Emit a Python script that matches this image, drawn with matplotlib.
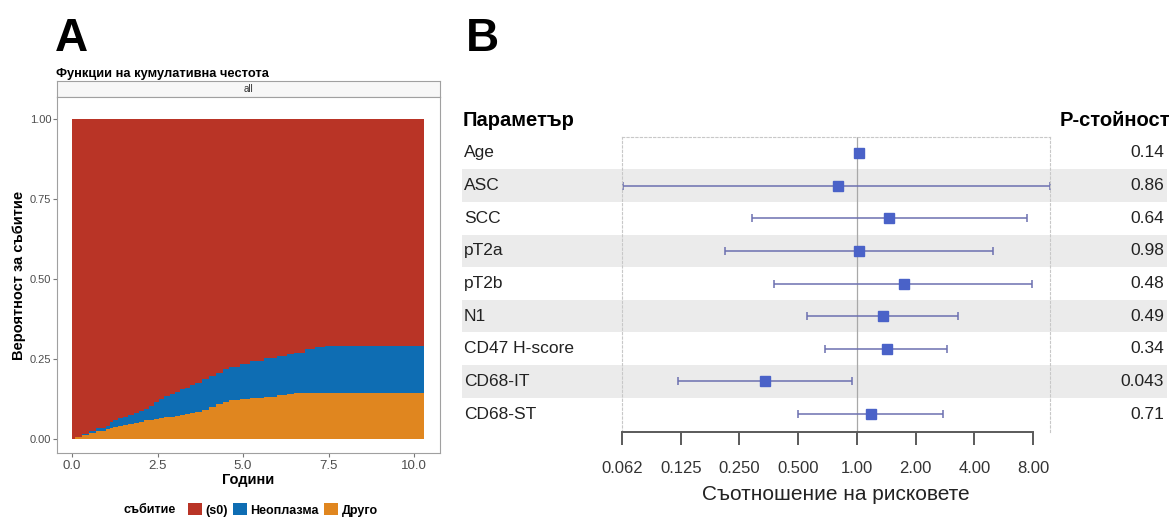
import numpy as np
import matplotlib
matplotlib.use("Agg")
import matplotlib.pyplot as plt
from matplotlib.patches import Patch
from matplotlib.transforms import blended_transform_factory

plt.rcParams['font.family'] = ['Liberation Sans', 'DejaVu Sans']

# Панел A: кумулативна честота по тип събитие
t_years = [0, 0.1, 0.3, 0.5, 0.7, 1.0, 1.1, 1.2, 1.35, 1.5, 1.65, 1.8, 1.95,
           2.1, 2.25, 2.4, 2.55, 2.7, 2.85, 3.0, 3.15, 3.3, 3.45, 3.6, 3.8,
           4.0, 4.2, 4.4, 4.6, 4.9, 5.2, 5.6, 6.0, 6.3, 6.5, 6.8, 7.1, 7.4,
           10.3]
cif_other = [0, 0.005, 0.012, 0.020, 0.024, 0.030, 0.034, 0.038, 0.042,
             0.045, 0.047, 0.050, 0.054, 0.058, 0.060, 0.063, 0.066, 0.068,
             0.070, 0.073, 0.076, 0.078, 0.081, 0.084, 0.092, 0.100, 0.108,
             0.116, 0.121, 0.126, 0.129, 0.132, 0.137, 0.140, 0.143, 0.143,
             0.143, 0.143, 0.143]
cif_neo = [0, 0.001, 0.003, 0.006, 0.010, 0.010, 0.018, 0.022, 0.024, 0.025,
           0.027, 0.030, 0.033, 0.037, 0.044, 0.052, 0.060, 0.067, 0.071,
           0.075, 0.079, 0.082, 0.087, 0.091, 0.094, 0.097, 0.099, 0.102,
           0.105, 0.110, 0.115, 0.120, 0.121, 0.125, 0.127, 0.137, 0.145,
           0.147, 0.147]
event_labels = ['(s0)', 'Неоплазма', 'Друго']
event_colors = ['#b93426', '#0e6db3', '#e0861f']

# Панел B: регресия на Кокс
params = ['Age', 'ASC', 'SCC', 'pT2a', 'pT2b', 'N1', 'CD47 H-score',
          'CD68-IT', 'CD68-ST']
hr = [1.02, 0.80, 1.46, 1.02, 1.74, 1.36, 1.42, 0.337, 1.18]
ci_low = [1.00, 0.063, 0.29, 0.21, 0.375, 0.555, 0.69, 0.121, 0.50]
ci_high = [1.04, 9.8, 7.45, 4.98, 7.9, 3.3, 2.9, 0.95, 2.76]
p_values = ['0.14', '0.86', '0.64', '0.98', '0.48', '0.49', '0.34', '0.043',
            '0.71']
hr_ticks = [0.0625, 0.125, 0.25, 0.5, 1, 2, 4, 8]
hr_tick_labels = ['0.062', '0.125', '0.250', '0.500', '1.00', '2.00', '4.00',
                  '8.00']

W, H = 1174, 517
fig = plt.figure(figsize=(W / 100, H / 100), dpi=100)


def px(x0, y0, x1, y1):
    return [x0 / W, 1 - y1 / H, (x1 - x0) / W, (y1 - y0) / H]


# ---------- A ----------
fig.text(55 / W, 1 - 51 / H, 'A', fontsize=33, fontweight='bold')
fig.text(56 / W, 1 - 77 / H, 'Функции на кумулативна честота', fontsize=9.3,
         fontweight='bold')

strip = fig.add_axes(px(57, 81, 440, 97))
strip.set_facecolor('#f7f7f7')
strip.set_xticks([])
strip.set_yticks([])
for s in strip.spines.values():
    s.set_color('#a0a0a0')
strip.text(0.5, 0.5, 'all', ha='center', va='center', fontsize=7,
           color='#333333', transform=strip.transAxes)

axA = fig.add_axes(px(57, 97, 440, 453))
t = np.array(t_years)
other = np.array(cif_other)
neo = np.array(cif_neo)
s0 = 1 - other - neo
axA.stackplot(t, other, neo, s0, step='post',
              colors=[event_colors[2], event_colors[1], event_colors[0]],
              linewidth=0)
axA.set_xlim(-0.44, 10.76)
axA.set_ylim(-0.044, 1.07)
axA.set_xticks([0, 2.5, 5, 7.5, 10])
axA.set_xticklabels(['0.0', '2.5', '5.0', '7.5', '10.0'])
axA.set_yticks([0, 0.25, 0.5, 0.75, 1.0])
axA.set_yticklabels(['0.00', '0.25', '0.50', '0.75', '1.00'])
axA.tick_params(axis='x', labelsize=9.5, labelcolor='#4d4d4d', length=3,
                color='#777777', pad=2)
axA.tick_params(axis='y', labelsize=8, labelcolor='#4d4d4d', length=3,
                color='#777777', pad=1)
for s in axA.spines.values():
    s.set_color('#a0a0a0')
axA.set_xlabel('Години', fontsize=10.5, fontweight='bold', labelpad=1)
axA.set_ylabel('Вероятност за събитие', fontsize=10.5, fontweight='bold',
               labelpad=3)

fig.text(123 / W, 1 - 510 / H, 'събитие', fontsize=9, fontweight='bold',
         va='center')
handles = [Patch(facecolor=c, edgecolor='none', label=l)
           for c, l in zip(event_colors, event_labels)]
fig.legend(handles=handles, ncol=3, loc='center left',
           bbox_to_anchor=(188 / W, 1 - 510 / H), frameon=False,
           prop={'size': 9, 'weight': 'bold'}, handlelength=1.1,
           handleheight=1.1, handletextpad=0.3, columnspacing=0.4,
           borderpad=0, borderaxespad=0)

# ---------- B ----------
fig.text(466 / W, 1 - 51 / H, 'B', fontsize=33, fontweight='bold')

n = len(params)
rows = np.arange(n)
ylim = (8.55, -0.49)

bg = fig.add_axes(px(462, 137, 1167, 432))
bg.set_ylim(*ylim)
bg.set_xlim(0, 1)
bg.axis('off')
for i in rows:
    if i % 2 == 1:
        bg.axhspan(i - 0.5, i + 0.5, color='#ebebeb', lw=0)

axB = fig.add_axes(px(622, 137, 1050, 432))
axB.set_facecolor('none')
axB.set_xscale('log', base=2)
axB.set_xlim(2 ** -4, 2 ** 3.29)
axB.set_ylim(*ylim)
axB.axvline(1, color='#a8a8a8', lw=0.9, zorder=1)
hr_a = np.array(hr)
xerr = [hr_a - np.array(ci_low), np.array(ci_high) - hr_a]
axB.errorbar(hr_a, rows, xerr=xerr, fmt='none', ecolor='#6c70b0',
             elinewidth=1.1, capsize=3, capthick=1.1, zorder=2)
axB.plot(hr_a, rows, 's', color='#4a62c8', markersize=7, zorder=3)
axB.set_yticks([])
axB.set_xticks(hr_ticks)
axB.set_xticklabels(hr_tick_labels)
axB.minorticks_off()
axB.tick_params(axis='x', length=9, width=1.4, color='#5a5a5a',
                labelsize=12, labelcolor='#333333', pad=12)
for side in ['top', 'left', 'right']:
    axB.spines[side].set_linestyle((0, (2, 2)))
    axB.spines[side].set_color('#c8c8c8')
    axB.spines[side].set_linewidth(0.8)
axB.spines['bottom'].set_bounds(hr_ticks[0], hr_ticks[-1])
axB.spines['bottom'].set_color('#5a5a5a')
axB.spines['bottom'].set_linewidth(1.4)
axB.set_xlabel('Съотношение на рисковете', fontsize=15, color='#222222',
               labelpad=6)

tr = blended_transform_factory(fig.transFigure, bg.transData)
fig.text(463 / W, -1, 'Параметър', transform=tr, fontsize=14.5,
         fontweight='bold', va='center', ha='left')
fig.text(1170 / W, -1, 'Р-стойност', transform=tr, fontsize=14.5,
         fontweight='bold', va='center', ha='right')
for i, (name, pv) in enumerate(zip(params, p_values)):
    fig.text(464 / W, i, name, transform=tr, fontsize=12.5, va='center',
             ha='left', color='#222222')
    fig.text(1164 / W, i, pv, transform=tr, fontsize=12.5, va='center',
             ha='right', color='#222222')

fig.savefig('out.png', dpi=100)
